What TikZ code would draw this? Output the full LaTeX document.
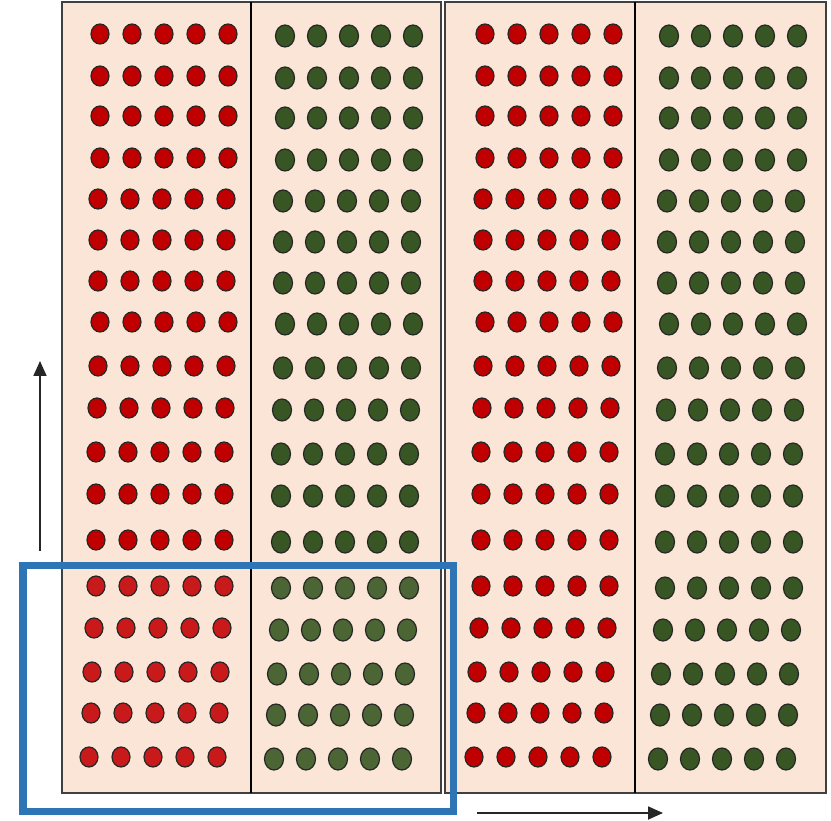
\documentclass[tikz,border=0pt]{standalone}
\usetikzlibrary{arrows.meta}
\definecolor{peach}{HTML}{FBE5D6}
\definecolor{dred}{HTML}{C00000}
\definecolor{lred}{HTML}{C81A1A}
\definecolor{dgreen}{HTML}{375623}
\definecolor{lgreen}{HTML}{4B6535}
\definecolor{boxblue}{HTML}{2E75B6}
\begin{document}
\begin{tikzpicture}[x=1pt,y=-1pt,
  dot/.style={draw=black!85, line width=1.2pt},
  board/.style={fill=peach, draw=black!75, line width=1.5pt},
  arr/.style={-{Triangle[length=15pt,width=13pt]}, line width=1.8pt, black!85}]
\useasboundingbox (0,0) rectangle (831,821);
\fill[white] (0,0) rectangle (831,821);
% boards
\filldraw[board] (62,2) rectangle (441,793);
\filldraw[board] (445,2) rectangle (826,793);
\draw[line width=2.6pt] (251,2) -- (251,793);
\draw[line width=1.5pt] (635,2) -- (635,793);
% dots
\foreach \y/\d [count=\r] in {34/0,76/0,116/0,158/0,199/-2,240/-2,281/-2,322/0,366/-2,408/-3,452/-4,494/-4,540/-4,586/-4,628/-6,672/-8,713/-9,757/-11}{
  \ifnum\r>13
    \def\lr{lred}\def\lg{lgreen}
  \else
    \def\lr{dred}\def\lg{dgreen}
  \fi
  \foreach \c in {0,...,4}{
    \filldraw[dot, fill=\lr] (100+\d+32*\c, \y) ellipse [x radius=9, y radius=10];
    \filldraw[dot, fill=\lg] (285+\d+32*\c, \y+2) ellipse [x radius=9.5, y radius=11];
    \filldraw[dot, fill=dred] (485+\d+32*\c, \y) ellipse [x radius=9, y radius=10];
    \filldraw[dot, fill=dgreen] (669+\d+32*\c, \y+2) ellipse [x radius=9.5, y radius=11];
  }
}
% highlight box
\draw[boxblue, line width=7.5pt] (23,565.5) rectangle (453.7,811.5);
% arrows
\coordinate (va) at (40,551);
\coordinate (vb) at (40,361);
\coordinate (ha) at (477,813);
\coordinate (hb) at (663,813);
\draw[arr] (va) -- (vb);
\draw[arr] (ha) -- (hb);
\end{tikzpicture}
\end{document}
